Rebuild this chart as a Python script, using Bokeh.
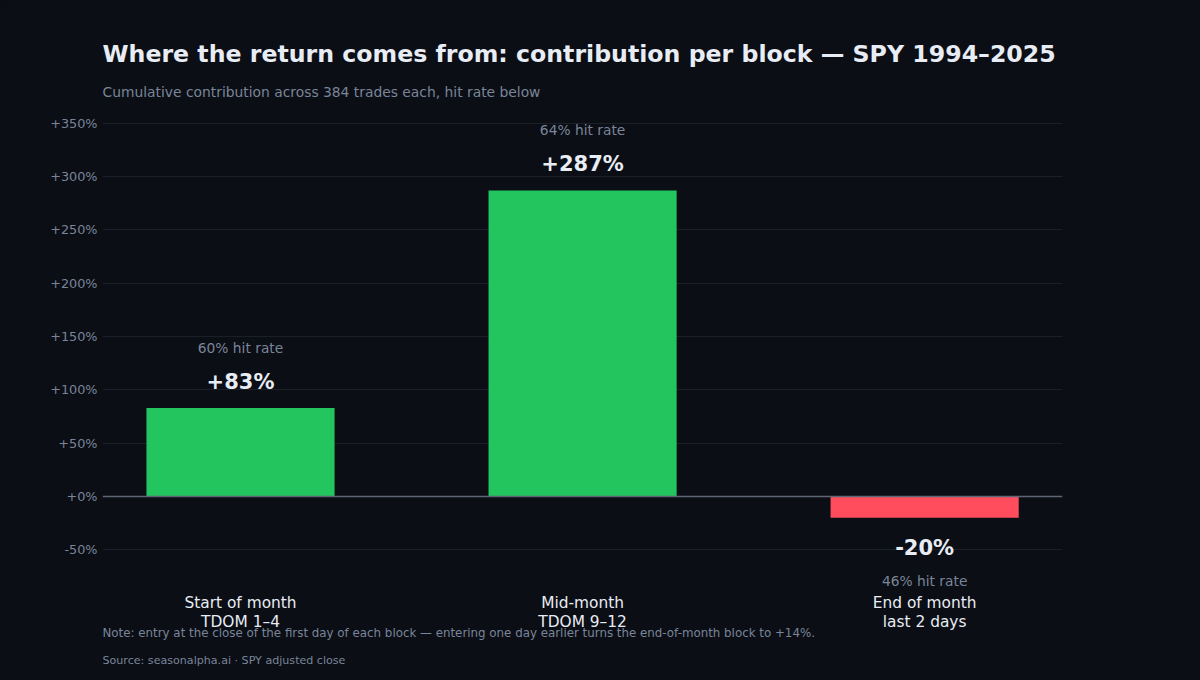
from bokeh.plotting import figure
from bokeh.models import ColumnDataSource, FixedTicker, Span, Title
from bokeh.core.properties import value
from bokeh.embed import file_html
from bokeh.resources import INLINE

# ---- data ----
blocks = ["Start of month\nTDOM 1–4", "Mid-month\nTDOM 9–12", "End of month\nlast 2 days"]
contribution = [83, 287, -20]          # cumulative contribution, %
hit_rate = [60, 64, 46]                # hit rate, %
y_ticks = [-50, 0, 50, 100, 150, 200, 250, 300, 350]

BG = "#0b0e15"
GREEN = "#22c55e"
RED = "#ff4d5e"
TXT = "#e8ecf4"
MUTED = "#7a8599"
FONT = "DejaVu Sans"

xpos = list(range(len(blocks)))
colors = [GREEN if v >= 0 else RED for v in contribution]
val_text = [("+%d%%" % v) if v >= 0 else ("%d%%" % v) for v in contribution]
hit_text = ["%d%% hit rate" % h for h in hit_rate]
val_off = [-26 if v >= 0 else 30 for v in contribution]
hit_off = [-60 if v >= 0 else 63 for v in contribution]

src = ColumnDataSource(dict(x=xpos, top=contribution, color=colors,
                            val=val_text, hit=hit_text, voff=val_off, hoff=hit_off,
                            cat=blocks, cy=[-108.8] * len(blocks)))

p = figure(width=1200, height=680, output_backend="svg", toolbar_location=None,
           x_range=(-0.4035, 2.403), y_range=(-172.5, 362),
           min_border_left=102, min_border_right=138, min_border_top=110, min_border_bottom=0,
           background_fill_color=BG, border_fill_color=BG)
p.outline_line_color = None

p.title = Title(text="Where the return comes from: contribution per block — SPY 1994–2025",
                text_font=FONT, text_font_size="23.65px", text_color=TXT, text_font_style="bold",
                align="left", offset=0, standoff=6)
p.add_layout(Title(text="Cumulative contribution across 384 trades each, hit rate below",
                   text_font=FONT, text_font_size="13.85px", text_color=MUTED,
                   text_font_style="normal", align="left", standoff=22), "above")

p.vbar(x="x", top="top", bottom=0, width=0.55, color="color", line_color=None, source=src)

p.add_layout(Span(location=0, dimension="width", line_color="#5f6673", line_width=1.5))

p.text(x="x", y="top", text="val", y_offset="voff", source=src,
       text_align="center", text_baseline="middle", text_color=TXT,
       text_font=value(FONT), text_font_size="21px", text_font_style="bold")
p.text(x="x", y="top", text="hit", y_offset="hoff", source=src,
       text_align="center", text_baseline="middle", text_color=MUTED,
       text_font=value(FONT), text_font_size="13.8px")
p.text(x="x", y="cy", text="cat", source=src,
       text_align="center", text_baseline="middle", text_color=TXT,
       text_font=value(FONT), text_font_size="15.4px", text_line_height=1.1)

p.text(x=[-0.4035], y=[-127.5], text=["Note: entry at the close of the first day of each block — entering one day earlier turns the end-of-month block to +14%."],
       text_align="left", text_baseline="middle", text_color=MUTED,
       text_font=value(FONT), text_font_size="11.85px")
p.text(x=[-0.4035], y=[-153.8], text=["Source: seasonalpha.ai · SPY adjusted close"],
       text_align="left", text_baseline="middle", text_color=MUTED,
       text_font=value(FONT), text_font_size="11.1px")

p.xaxis.visible = False
p.xgrid.visible = False
p.yaxis.ticker = FixedTicker(ticks=y_ticks)
p.yaxis.major_label_overrides = {t: (("+%d%%" % t) if t >= 0 else ("%d%%" % t)) for t in y_ticks}
p.yaxis.axis_line_color = None
p.yaxis.major_tick_line_color = None
p.yaxis.major_tick_out = 0
p.yaxis.major_tick_in = 0
p.yaxis.minor_tick_line_color = None
p.yaxis.major_label_text_color = MUTED
p.yaxis.major_label_text_font = FONT
p.yaxis.major_label_text_font_size = "12.8px"
p.yaxis.major_label_standoff = 5
p.ygrid.ticker = FixedTicker(ticks=y_ticks)
p.ygrid.grid_line_color = "#1b1f28"
p.ygrid.grid_line_width = 1

html = file_html(p, INLINE)
style = "<style>html,body{margin:0;padding:0;background:%s;overflow:hidden;}</style></head>" % BG
html = html.replace("</head>", style, 1)
open("out.html", "w").write(html)
